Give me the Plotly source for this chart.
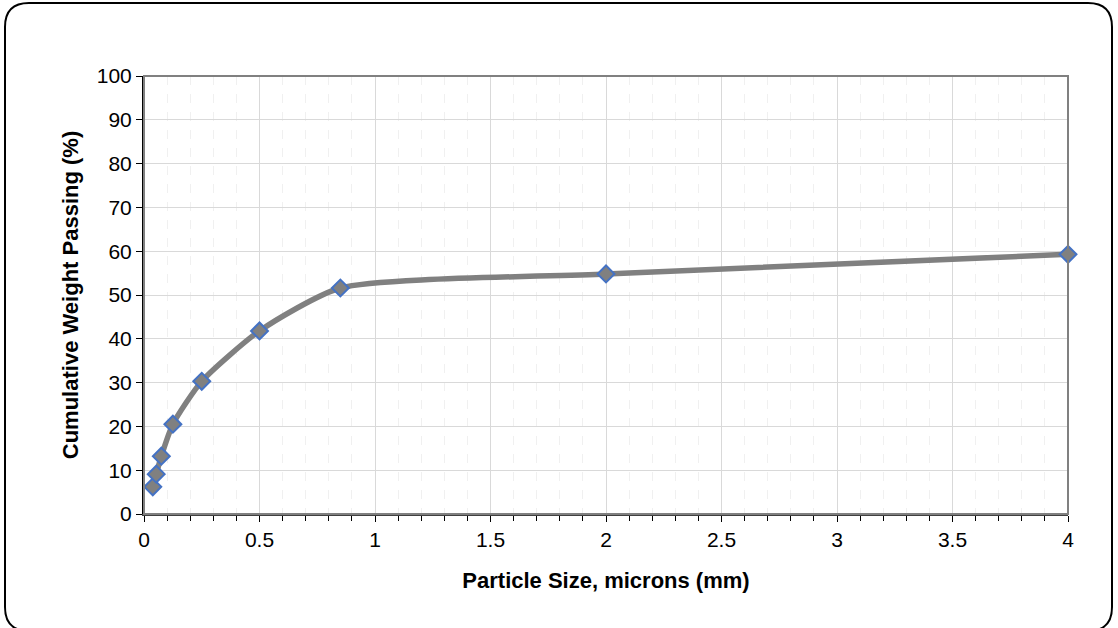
import plotly.graph_objects as go

particle_size = [0.038, 0.053, 0.075, 0.125, 0.25, 0.5, 0.85, 2.0, 4.0]
cum_passing = [6.2, 9.1, 13.2, 20.5, 30.3, 41.8, 51.6, 54.8, 59.3]
x_title = "Particle Size, microns (mm)"
y_title = "Cumulative Weight Passing (%)"

W, H = 1118, 628
L, R, T, B = 144, 1068, 76, 514

def px(x):
    return (x - L) / (R - L)

def py(y):
    return (B - y) / (B - T)

fig = go.Figure()
fig.add_trace(go.Scatter(
    x=particle_size, y=cum_passing, mode="lines+markers",
    line=dict(color="#808080", width=5.5, shape="spline", smoothing=0.6),
    marker=dict(symbol="diamond", size=13, color="#808080",
                line=dict(color="#4472C4", width=2)),
    showlegend=False, cliponaxis=False,
))

# rounded outer border (coordinates in window pixels)
x0, x1, y0, y1, r = 5, 1112, 3, 631, 24
path = (f"M {px(x0 + r)},{py(y0)} L {px(x1 - r)},{py(y0)} "
        f"Q {px(x1)},{py(y0)} {px(x1)},{py(y0 + r)} "
        f"L {px(x1)},{py(y1 - r)} Q {px(x1)},{py(y1)} {px(x1 - r)},{py(y1)} "
        f"L {px(x0 + r)},{py(y1)} Q {px(x0)},{py(y1)} {px(x0)},{py(y1 - r)} "
        f"L {px(x0)},{py(y0 + r)} Q {px(x0)},{py(y0)} {px(x0 + r)},{py(y0)} Z")
fig.add_shape(type="path", path=path, xref="paper", yref="paper",
              line=dict(color="black", width=2))
fig.add_shape(type="rect", x0=0, x1=1, y0=0, y1=1, xref="paper", yref="paper",
              line=dict(color="#808080", width=2), layer="above")

tfont = dict(family="Liberation Sans, Arial", size=21, color="black")
hfont = dict(family="Liberation Sans, Arial", size=22, color="black")
fig.update_layout(
    width=W, height=H,
    margin=dict(l=L, r=W - R, t=T, b=H - B),
    paper_bgcolor="white", plot_bgcolor="white",
    font=tfont,
    xaxis=dict(
        range=[0, 4], dtick=0.5, tick0=0, showgrid=True, gridcolor="#d9d9d9", gridwidth=1,
        ticks="outside", ticklen=6, tickcolor="black", tickwidth=1,
        showline=True, linecolor="#404040", linewidth=2, zeroline=False,
        minor=dict(dtick=0.1, showgrid=True, gridcolor="#f0f0f0", griddash="dash",
                   ticks="outside", ticklen=5, tickcolor="black", tickwidth=1),
        title=dict(text="<b>" + x_title + "</b>", font=hfont, standoff=22),
        tickfont=tfont,
    ),
    yaxis=dict(
        range=[0, 100], dtick=10, showgrid=True, gridcolor="#d9d9d9", gridwidth=1,
        ticks="outside", ticklen=6, tickcolor="black", tickwidth=1,
        showline=True, linecolor="black", linewidth=2, zeroline=False,
        title=dict(text="<b>" + y_title + "</b>", font=hfont, standoff=12),
        tickfont=tfont,
    ),
)
fig.write_html(
    "out.html",
    config={"displayModeBar": False},
    post_script="document.body.style.margin='0';document.body.style.overflow='hidden';",
)
